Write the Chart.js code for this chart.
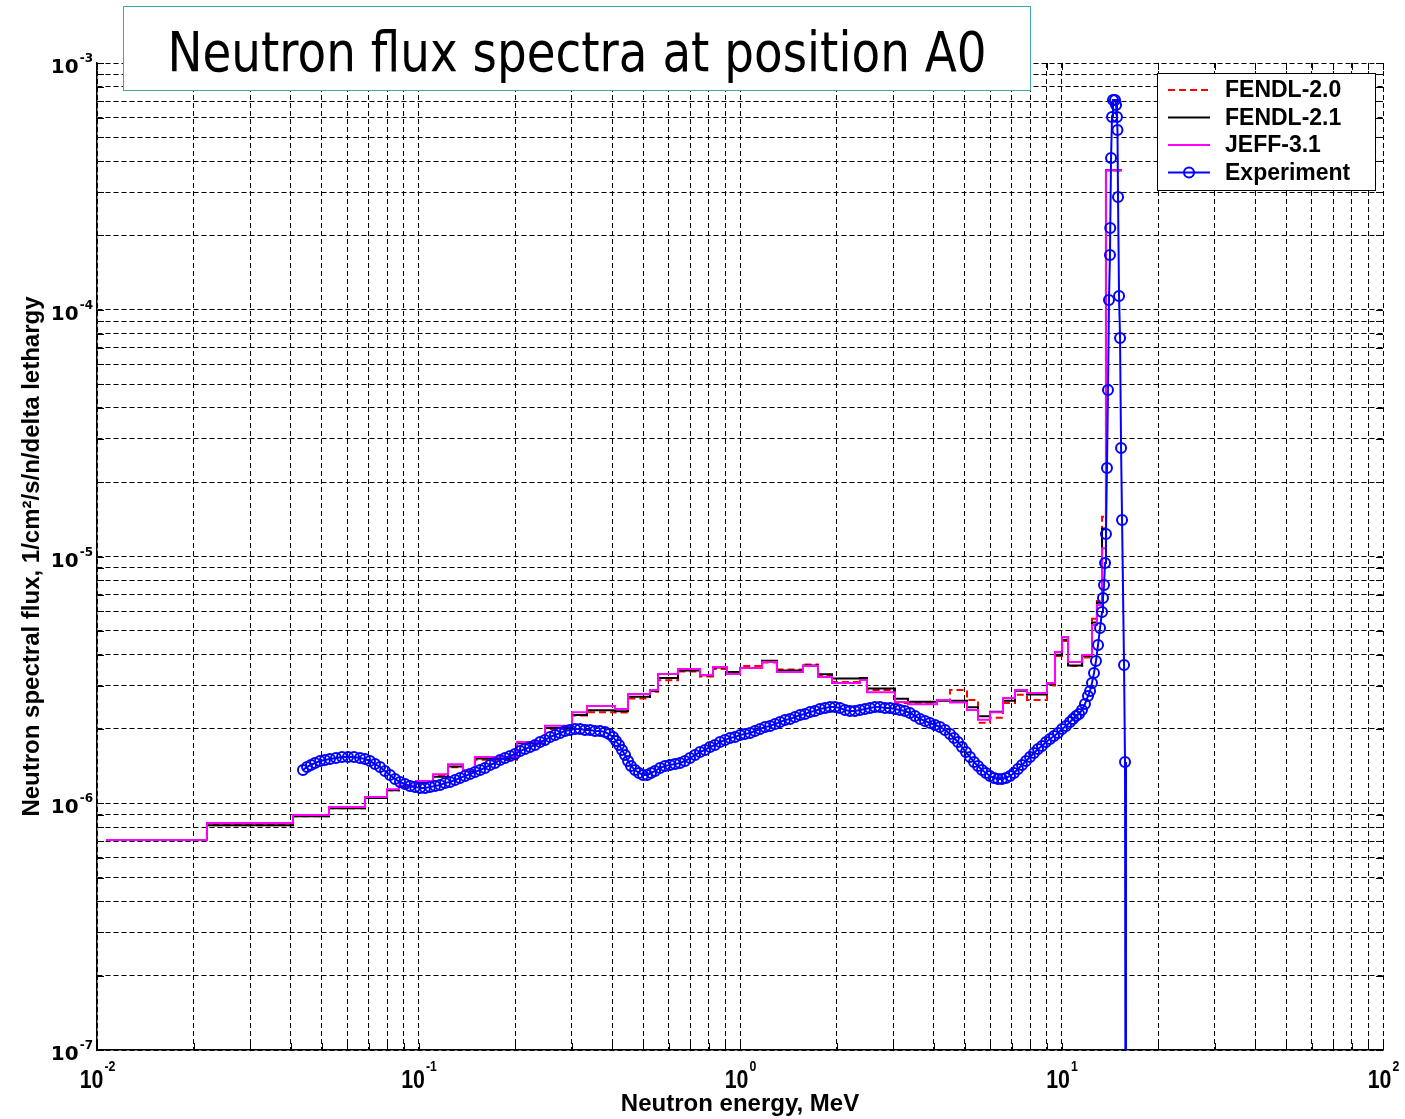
<!DOCTYPE html>
<html><head><meta charset="utf-8">
<script src="https://cdn.jsdelivr.net/npm/chart.js@4.4.0/dist/chart.umd.min.js"></script>
<style>
html,body{margin:0;padding:0;background:#fff;}
#wrap{position:relative;width:1405px;height:1119px;overflow:hidden;}
#c{position:absolute;left:0;top:0;}
#title{position:absolute;left:123px;top:6px;width:906px;height:83px;border:1px solid #3fa9a9;background:#fff;overflow:hidden;}
#tt{position:absolute;left:50%;top:50%;font-family:"DejaVu Sans",sans-serif;font-size:55px;white-space:nowrap;color:#000;transform:translate(-50%,-50%);}
</style></head>
<body><div id="wrap"><canvas id="c" width="1405" height="1119"></canvas><div id="title"><span id="tt">Neutron flux spectra at position A0</span></div></div>
<script>
// ---------- data ----------
const binEdgesMeV = [0.01067,0.02198,0.04072,0.05268,0.06819,0.07980,0.08696,0.09822,0.1110,0.1235,
 0.1375,0.1498,0.2025,0.2475,0.3003,0.3343,0.4086,0.4483,0.5249,0.5558,
 0.6415,0.7510,0.8241,0.9111,1.000,1.171,1.303,1.570,1.748,1.933,
 2.362,2.483,3.034,3.331,4.101,4.500,5.083,5.499,5.992,6.577,
 7.167,7.812,9.014,9.545,10.04,10.48,11.59,12.44,12.89,13.37,13.75,15.42];
const fendl20 = [7.10e-7,8.15e-7,8.85e-7,9.55e-7,1.05e-6,1.13e-6,1.17e-6,1.22e-6,1.29e-6,1.40e-6,
 1.36e-6,1.50e-6,1.74e-6,2.00e-6,2.27e-6,2.34e-6,2.33e-6,2.66e-6,2.83e-6,3.15e-6,
 3.42e-6,3.26e-6,3.50e-6,3.38e-6,3.60e-6,3.72e-6,3.48e-6,3.65e-6,3.30e-6,3.10e-6,
 3.18e-6,2.88e-6,2.55e-6,2.55e-6,2.62e-6,2.88e-6,2.62e-6,2.12e-6,2.22e-6,2.55e-6,
 2.75e-6,2.62e-6,3.00e-6,3.95e-6,4.55e-6,3.60e-6,3.90e-6,5.60e-6,6.60e-6,1.45e-5,3.68e-4];
const fendl21 = [7.10e-7,8.15e-7,8.85e-7,9.55e-7,1.05e-6,1.13e-6,1.17e-6,1.22e-6,1.28e-6,1.41e-6,
 1.35e-6,1.52e-6,1.75e-6,2.02e-6,2.28e-6,2.38e-6,2.36e-6,2.70e-6,2.85e-6,3.22e-6,
 3.45e-6,3.30e-6,3.55e-6,3.40e-6,3.53e-6,3.78e-6,3.45e-6,3.62e-6,3.33e-6,3.20e-6,
 3.22e-6,2.92e-6,2.65e-6,2.58e-6,2.60e-6,2.60e-6,2.45e-6,2.25e-6,2.35e-6,2.60e-6,
 2.86e-6,2.76e-6,3.05e-6,4.00e-6,4.60e-6,3.62e-6,3.95e-6,5.40e-6,6.50e-6,1.30e-5,3.68e-4];
const jeff31 = [7.10e-7,8.32e-7,8.96e-7,9.66e-7,1.06e-6,1.14e-6,1.18e-6,1.23e-6,1.31e-6,1.44e-6,
 1.36e-6,1.54e-6,1.77e-6,2.06e-6,2.34e-6,2.48e-6,2.41e-6,2.77e-6,2.88e-6,3.34e-6,
 3.50e-6,3.31e-6,3.57e-6,3.34e-6,3.53e-6,3.74e-6,3.40e-6,3.60e-6,3.25e-6,3.07e-6,
 3.16e-6,2.82e-6,2.57e-6,2.52e-6,2.62e-6,2.56e-6,2.39e-6,2.18e-6,2.34e-6,2.67e-6,
 2.88e-6,2.80e-6,3.07e-6,4.10e-6,4.72e-6,3.74e-6,3.99e-6,5.28e-6,6.36e-6,1.08e-5,3.68e-4];
const expEnergyMeV = [
 0.04372,0.04500,0.04630,0.04765,0.04938,0.05118,0.05305,0.05538,0.05781,0.06035,
 0.06300,0.06577,0.06816,0.07065,0.07323,0.07590,0.07867,0.08153,0.08451,0.08759,
 0.09078,0.09409,0.09753,0.1011,0.1048,0.1086,0.1126,0.1167,0.1209,0.1253,
 0.1299,0.1346,0.1395,0.1446,0.1499,0.1554,0.1610,0.1669,0.1730,0.1793,
 0.1858,0.1926,0.1996,0.2069,0.2144,0.2223,0.2304,0.2388,0.2475,0.2565,
 0.2659,0.2755,0.2856,0.2960,0.3068,0.3180,0.3296,0.3416,0.3540,0.3670,
 0.3803,0.3914,0.4028,0.4115,0.4205,0.4296,0.4389,0.4485,0.4582,0.4715,
 0.4852,0.4993,0.5138,0.5287,0.5441,0.5639,0.5845,0.6058,0.6279,0.6506,
 0.6743,0.6990,0.7245,0.7509,0.7783,0.8066,0.8360,0.8665,0.8981,0.9309,
 0.9648,1.000,1.036,1.074,1.113,1.154,1.196,1.240,1.285,1.332,
 1.380,1.431,1.483,1.537,1.593,1.651,1.711,1.773,1.838,1.905,
 1.974,2.046,2.121,2.198,2.278,2.361,2.448,2.537,2.629,2.725,
 2.825,2.928,3.034,3.145,3.260,3.378,3.502,3.629,3.762,3.899,
 4.041,4.188,4.341,4.499,4.630,4.765,4.903,5.045,5.192,5.343,
 5.499,5.658,5.823,5.992,6.166,6.346,6.530,6.720,6.915,7.116,
 7.323,7.536,7.755,7.980,8.212,8.451,8.696,8.949,9.209,9.477,
 9.753,10.04,10.33,10.63,10.86,11.10,11.34,11.58,11.83,12.09,
 12.27,12.44,12.62,12.80,12.99,13.18,13.37,13.46,13.56,13.66,
 13.75,13.85,13.95,14.05,14.15,14.18,14.26,14.36,14.46,14.67,
 14.78,14.88,14.93,14.99,15.10,15.21,15.32,15.43,15.65,15.76,
 15.87];
const expFlux = [
 1.364e-6,1.403e-6,1.429e-6,1.456e-6,1.483e-6,1.497e-6,1.511e-6,1.525e-6,1.540e-6,1.540e-6,
 1.540e-6,1.525e-6,1.511e-6,1.483e-6,1.442e-6,1.403e-6,1.351e-6,1.302e-6,1.254e-6,1.219e-6,
 1.197e-6,1.175e-6,1.164e-6,1.153e-6,1.153e-6,1.164e-6,1.175e-6,1.186e-6,1.208e-6,1.219e-6,
 1.242e-6,1.266e-6,1.290e-6,1.314e-6,1.339e-6,1.364e-6,1.390e-6,1.429e-6,1.456e-6,1.497e-6,
 1.525e-6,1.554e-6,1.583e-6,1.628e-6,1.659e-6,1.690e-6,1.722e-6,1.771e-6,1.804e-6,1.856e-6,
 1.891e-6,1.926e-6,1.962e-6,1.981e-6,1.999e-6,1.999e-6,1.981e-6,1.981e-6,1.962e-6,1.962e-6,
 1.944e-6,1.908e-6,1.856e-6,1.788e-6,1.722e-6,1.644e-6,1.569e-6,1.483e-6,1.416e-6,1.364e-6,
 1.326e-6,1.302e-6,1.302e-6,1.326e-6,1.351e-6,1.390e-6,1.416e-6,1.429e-6,1.442e-6,1.456e-6,
 1.483e-6,1.525e-6,1.569e-6,1.613e-6,1.644e-6,1.690e-6,1.722e-6,1.771e-6,1.804e-6,1.838e-6,
 1.856e-6,1.891e-6,1.908e-6,1.926e-6,1.962e-6,1.999e-6,2.037e-6,2.056e-6,2.095e-6,2.134e-6,
 2.175e-6,2.196e-6,2.237e-6,2.279e-6,2.300e-6,2.344e-6,2.366e-6,2.410e-6,2.433e-6,2.456e-6,
 2.456e-6,2.433e-6,2.388e-6,2.366e-6,2.366e-6,2.388e-6,2.410e-6,2.433e-6,2.456e-6,2.456e-6,
 2.433e-6,2.433e-6,2.410e-6,2.388e-6,2.366e-6,2.322e-6,2.258e-6,2.196e-6,2.154e-6,2.115e-6,
 2.075e-6,2.037e-6,1.981e-6,1.908e-6,1.838e-6,1.771e-6,1.690e-6,1.613e-6,1.540e-6,1.470e-6,
 1.416e-6,1.364e-6,1.326e-6,1.290e-6,1.266e-6,1.254e-6,1.254e-6,1.266e-6,1.290e-6,1.326e-6,
 1.377e-6,1.429e-6,1.483e-6,1.540e-6,1.598e-6,1.659e-6,1.706e-6,1.771e-6,1.821e-6,1.873e-6,
 1.926e-6,1.999e-6,2.056e-6,2.134e-6,2.196e-6,2.258e-6,2.300e-6,2.388e-6,2.525e-6,2.721e-6,
 2.851e-6,3.072e-6,3.372e-6,3.772e-6,4.378e-6,5.132e-6,5.957e-6,6.790e-6,7.665e-6,9.410e-6,
 1.234e-5,2.284e-5,4.729e-5,1.095e-4,1.667e-4,2.145e-4,4.121e-4,6.041e-4,7.080e-4,7.080e-4,
 6.757e-4,6.041e-4,5.353e-4,2.864e-4,1.137e-4,7.682e-5,2.753e-5,1.406e-5,3.636e-6,1.470e-6,
 1e-9];
const xTickExponents = [-2,-1,0,1,2];
const yTickExponents = [-7,-6,-5,-4,-3];
const seriesLabels = ['FENDL-2.0','FENDL-2.1','JEFF-3.1','Experiment'];
const xTitle = 'Neutron energy, MeV';
const yTitle = 'Neutron spectral flux, 1/cm\u00B2/s/n/delta lethargy';

// ---------- helpers ----------
function histPoints(edges, vals){ return edges.map((e,i)=>({x:e, y:vals[Math.min(i, vals.length-1)]})); }
function logTicks(exps){
  const t=[];
  for(let k=0;k<exps.length-1;k++){ for(let m=1;m<=9;m++) t.push({value:m*Math.pow(10,exps[k])}); }
  t.push({value:Math.pow(10,exps[exps.length-1])});
  return t;
}
const FONT='"Liberation Sans", Arial, sans-serif';

const tickMarks = {
  id:'tickMarks',
  afterDatasetsDraw(chart){
    const {ctx, chartArea:a, scales:{x,y}} = chart;
    ctx.save(); ctx.strokeStyle='#000'; ctx.lineWidth=1; ctx.setLineDash([]);
    ctx.beginPath();
    x.ticks.forEach(t=>{ const p=Math.round(x.getPixelForValue(t.value))+0.5;
      ctx.moveTo(p,a.bottom); ctx.lineTo(p,a.bottom-7); ctx.moveTo(p,a.top); ctx.lineTo(p,a.top+7); });
    y.ticks.forEach(t=>{ const p=Math.round(y.getPixelForValue(t.value))+0.5;
      ctx.moveTo(a.left,p); ctx.lineTo(a.left+7,p); ctx.moveTo(a.right,p); ctx.lineTo(a.right-7,p); });
    ctx.stroke(); ctx.restore();
  }
};

const tickLabels = {
  id:'tickLabels',
  afterDraw(chart){
    const {ctx, chartArea:a, scales:{x,y}} = chart;
    ctx.save(); ctx.fillStyle='#000'; ctx.textBaseline='alphabetic'; ctx.textAlign='left';
    const sx=0.82;
    xTickExponents.forEach(e=>{
      const p=x.getPixelForValue(Math.pow(10,e));
      const es=String(e);
      ctx.font='bold 26px '+FONT; const wb=ctx.measureText('10').width*sx;
      ctx.font='bold 15px '+FONT; const we=ctx.measureText(es).width*sx;
      const l=p-(wb+we)/2;
      ctx.save(); ctx.translate(l, a.bottom+38); ctx.scale(sx,1); ctx.font='bold 26px '+FONT; ctx.fillText('10',0,0); ctx.restore();
      ctx.save(); ctx.translate(l+wb+1, a.bottom+21); ctx.scale(sx,1); ctx.font='bold 15px '+FONT; ctx.fillText(es,0,0); ctx.restore();
    });
    const YF='"DejaVu Sans", sans-serif';
    yTickExponents.forEach(e=>{
      const p=y.getPixelForValue(Math.pow(10,e));
      const es=String(e);
      ctx.font='bold 12px '+YF; const we=ctx.measureText(es).width;
      ctx.font='bold 20px '+YF; const wb=ctx.measureText('10').width;
      const r=a.left-4;
      ctx.fillText('10', r-we-wb-1, p+10);
      ctx.font='bold 12px '+YF; ctx.fillText(es, r-we, p-1);
    });
    ctx.restore();
  }
};

const boxLegend = {
  id:'boxLegend',
  afterDraw(chart){
    const {ctx, chartArea:a} = chart;
    const x0=a.right-226, y0=a.top+10, w=218, h=117;
    ctx.save();
    ctx.fillStyle='#fff'; ctx.fillRect(x0,y0,w,h);
    ctx.strokeStyle='#000'; ctx.lineWidth=1; ctx.setLineDash([]);
    ctx.strokeRect(x0+0.5,y0+0.5,w,h);
    ctx.font='bold 23px '+FONT; ctx.textBaseline='middle'; ctx.textAlign='left';
    chart.data.datasets.forEach((ds,i)=>{
      const yy=y0+17+i*27.5;
      ctx.strokeStyle=ds.borderColor; ctx.lineWidth=2; ctx.setLineDash(ds.borderDash||[]);
      ctx.beginPath(); ctx.moveTo(x0+11,yy); ctx.lineTo(x0+53,yy); ctx.stroke();
      ctx.setLineDash([]);
      if(ds.pointRadius>0){ ctx.beginPath(); ctx.arc(x0+32,yy,ds.pointRadius,0,Math.PI*2); ctx.stroke(); }
      ctx.fillStyle='#000'; ctx.fillText(ds.label, x0+68, yy+1);
    });
    ctx.restore();
  }
};

const gridCommon = { color:'#000', lineWidth:1, drawTicks:false };
const borderCommon = { display:true, color:'#000', width:1.5, dash:[5,3] };

new Chart(document.getElementById('c'), {
  type:'line',
  data:{ datasets:[
    { label:seriesLabels[0], data:histPoints(binEdgesMeV,fendl20), stepped:true, borderColor:'#ff0000', borderDash:[7,4], borderWidth:2, pointRadius:0, fill:false, order:4 },
    { label:seriesLabels[1], data:histPoints(binEdgesMeV,fendl21), stepped:true, borderColor:'#000000', borderWidth:2, pointRadius:0, fill:false, order:3 },
    { label:seriesLabels[2], data:histPoints(binEdgesMeV,jeff31), stepped:true, borderColor:'#ff00ff', borderWidth:2, pointRadius:0, fill:false, order:2 },
    { label:seriesLabels[3], data:expEnergyMeV.map((e,i)=>({x:e,y:expFlux[i]})), borderColor:'#0000ff', borderWidth:2,
      pointRadius:5, pointBorderWidth:2, pointBackgroundColor:'rgba(0,0,0,0)', pointBorderColor:'#0000ff', pointStyle:'circle', fill:false, order:1 }
  ]},
  options:{
    responsive:false, animation:false, devicePixelRatio:1, events:[],
    layout:{ padding:{ left:0, right:22, top:63, bottom:0 } },
    plugins:{ legend:{display:false}, tooltip:{enabled:false}, title:{display:false} },
    scales:{
      x:{ type:'logarithmic', min:0.01, max:100,
          afterBuildTicks:s=>{ s.ticks=logTicks(xTickExponents); },
          afterFit:s=>{ s.height=69; },
          ticks:{ display:false },
          grid:gridCommon, border:borderCommon,
          title:{ display:true, text:xTitle, color:'#000', font:{family:FONT, weight:'bold', size:24}, padding:{top:0,bottom:0} } },
      y:{ type:'logarithmic', min:1e-7, max:1e-3,
          afterBuildTicks:s=>{ s.ticks=logTicks(yTickExponents); },
          afterFit:s=>{ s.width=97; },
          ticks:{ display:false },
          grid:gridCommon, border:borderCommon,
          title:{ display:true, text:yTitle, color:'#000', font:{family:FONT, weight:'bold', size:24}, padding:{top:18,bottom:0} } }
    }
  },
  plugins:[tickMarks, tickLabels, boxLegend]
});

// fit title text width
(function(){
  const tt=document.getElementById('tt');
  function fit(){ const w=tt.offsetWidth; const s=819/w; tt.style.transform='translate(-50%,-46%) scaleX('+s+')'; }
  fit();
  if(document.fonts&&document.fonts.ready) document.fonts.ready.then(fit);
})();
</script>
</body></html>
